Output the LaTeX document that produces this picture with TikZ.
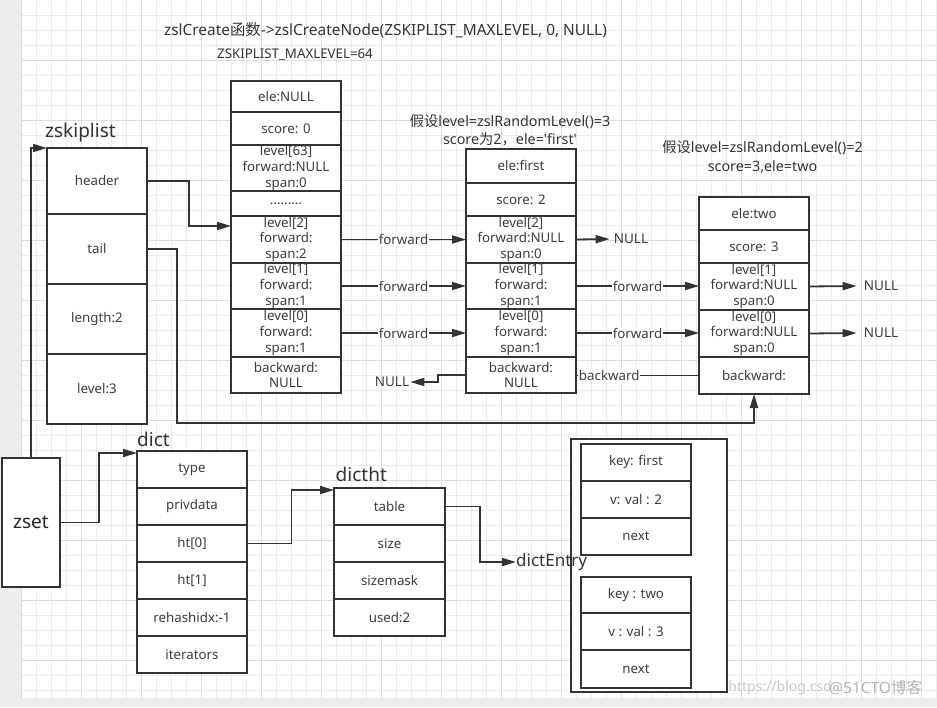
\documentclass[tikz,border=0pt]{standalone}
\usepackage{fontspec}
\setmainfont{Noto Sans}
\newfontfamily\cjk{Noto Sans CJK SC}
\usetikzlibrary{arrows.meta}
\definecolor{linec}{HTML}{333333}
\definecolor{txt}{HTML}{3C3C3C}
\definecolor{gridminor}{HTML}{EBEBEB}
\definecolor{gridmajor}{HTML}{DDDDDD}
\definecolor{strip}{HTML}{EDEDED}
\definecolor{wmark}{HTML}{C8C8C8}
\newcommand{\cel}[6]{\node[cell, minimum width={(#4-#2)*1pt}, minimum height={(#5-#3)*1pt}] (#1) at ({(#2+#4)/2},{(#3+#5)/2}) {#6};}
\tikzset{
  cell/.style={draw=linec, line width=1.8pt, fill=white, inner sep=0pt, outer sep=0pt, align=center, text=txt, font=\fontsize{13.3}{15.7}\selectfont},
  wire/.style={draw=linec, line width=1.8pt},
  conn/.style={wire, -{Triangle[length=14pt,width=8pt]}},
  lbl/.style={fill=white, inner sep=1pt, text=txt, font=\fontsize{13.3}{15}\selectfont},
  nulltxt/.style={inner sep=0pt, text=txt, font=\fontsize{13.5}{15}\selectfont},
  bigtxt/.style={inner sep=0pt, text=linec, font=\fontsize{19}{22}\selectfont},
  note/.style={inner sep=0pt, align=center, text=linec, font=\fontsize{14.3}{18.3}\selectfont},
}
\begin{document}
\begin{tikzpicture}[x=1pt,y=-1pt]
\useasboundingbox (0,0) rectangle (937,707);
% background
\fill[white] (0,0) rectangle (937,707);
\fill[strip] (0,0) rectangle (21.5,707);
\fill[strip] (0,697.7) rectangle (937,707);
\foreach \k in {0,...,61} {
  \pgfmathsetmacro{\xx}{21.7+15*\k}
  \draw[gridminor, line width=0.9pt] (\xx,0) -- (\xx,697.7);
}
\foreach \k in {1,...,46} {
  \draw[gridminor, line width=0.9pt] (21.7,{15*\k}) -- (937,{15*\k});
}
\foreach \k in {0,...,15} {
  \pgfmathsetmacro{\xx}{21.7+60*\k}
  \draw[gridmajor, line width=0.9pt] (\xx,0) -- (\xx,697.7);
}
\foreach \k in {1,...,11} {
  \draw[gridmajor, line width=0.9pt] (21.7,{60*\k}) -- (937,{60*\k});
}

% titles
\node[inner sep=0pt, text=linec, font=\fontsize{15.4}{18}\selectfont] (title) at (385.5,30.5) {zslCreate{\cjk 函数}->zslCreateNode(ZSKIPLIST\_MAXLEVEL, 0, NULL)};
\node[inner sep=0pt, text=linec, font=\fontsize{13.3}{16}\selectfont] (maxlvl) at (295,55) {ZSKIPLIST\_MAXLEVEL=64};
\node[note] (note1) at (510,130) {{\cjk 假设}level=zslRandomLevel()=3\\score{\cjk 为}2{\cjk ，}ele=\textquotesingle first\textquotesingle};
\node[note] (note2) at (762.5,157) {{\cjk 假设}level=zslRandomLevel()=2\\score=3,ele=two};

% zskiplist
\node[bigtxt, anchor=west] (zsl) at (45,133) {zskiplist};
\cel{hdr}{47}{148}{147}{214}{header}
\cel{tail}{47}{214}{147}{284}{tail}
\cel{len}{47}{284}{147}{354}{length:2}
\cel{lvl}{47}{354}{147}{424}{level:3}

% node 1
\cel{n1ele}{231}{81}{341}{112}{ele:NULL}
\cel{n1sc}{231}{112}{341}{145}{score: 0}
\cel{n1l63}{231}{145}{341}{191}{level[63]\\forward:NULL\\span:0}
\cel{n1dots}{231}{191}{341}{216}{.........}
\cel{n1l2}{231}{216}{341}{263}{level[2]\\forward:\\span:2}
\cel{n1l1}{231}{263}{341}{309}{level[1]\\forward:\\span:1}
\cel{n1l0}{231}{309}{341}{357}{level[0]\\forward:\\span:1}
\cel{n1bk}{231}{357}{341}{393}{backward:\\NULL}

% node 2
\cel{n2ele}{466}{149}{576}{183}{ele:first}
\cel{n2sc}{466}{183}{576}{216}{score: 2}
\cel{n2l2}{466}{216}{576}{263}{level[2]\\forward:NULL\\span:0}
\cel{n2l1}{466}{263}{576}{309}{level[1]\\forward:\\span:1}
\cel{n2l0}{466}{309}{576}{357}{level[0]\\forward:\\span:1}
\cel{n2bk}{466}{357}{576}{393}{backward:\\NULL}

% node 3
\cel{n3ele}{699}{197}{809}{230}{ele:two}
\cel{n3sc}{699}{230}{809}{263}{score: 3}
\cel{n3l1}{699}{263}{809}{310}{level[1]\\forward:NULL\\span:0}
\cel{n3l0}{699}{310}{809}{357}{level[0]\\forward:NULL\\span:0}
\cel{n3bk}{699}{357}{809}{394}{backward:}

% NULL labels
\node[nulltxt] (null2) at (631,239) {NULL};
\node[nulltxt] (null3a) at (881,286) {NULL};
\node[nulltxt] (null3b) at (881,333) {NULL};
\node[nulltxt] (nullb) at (392,382) {NULL};

% skiplist connectors
\draw[conn] (n1l2.east) -- (n1l2.east -| n2l2.west) node[lbl, pos=0.5] {forward};
\draw[conn] (n1l1.east) -- (n1l1.east -| n2l1.west) node[lbl, pos=0.5] {forward};
\draw[conn] (n1l0.east) -- (n1l0.east -| n2l0.west) node[lbl, pos=0.5] {forward};
\draw[conn] (n2l1.east) -- (n2l1.east -| n3l1.west) node[lbl, pos=0.5] {forward};
\draw[conn] (n2l0.east) -- (n2l0.east -| n3l0.west) node[lbl, pos=0.5] {forward};
\draw[conn] (n2l2.east) -- ([xshift=-4pt]null2.west);
\draw[conn] (n3l1.east) -- ([xshift=-7pt]null3a.west);
\draw[conn] (n3l0.east) -- ([xshift=-7pt]null3b.west);
\draw[conn] (n3bk.west) -- (n3bk.west -| n2bk.east) node[lbl, pos=0.73] {backward};
\draw[conn] (n2bk.west) -- ++(-28,0) |- ([xshift=1pt]nullb.east);

% zskiplist connectors
\draw[conn] (hdr.east) -- ++(42,0) |- ([yshift=13.5pt]n1l2.west);
\draw[conn] (tail.east) -- ++(30,0) |- ([yshift=-29pt]n3bk.south) -- (n3bk.south);

% zset
\node[draw=linec, line width=1.8pt, fill=white, minimum width=58pt, minimum height=129pt, inner sep=0pt, outer sep=0pt, text=black!85, font=\fontsize{19}{22}\selectfont] (zset) at (31,522.5) {zset};
\draw[conn] (zset.north) |- (hdr.north west);

% dict
\node[bigtxt, anchor=west] (dictlbl) at (137,439) {dict};
\cel{dtype}{137}{451}{247}{488}{type}
\cel{dpriv}{137}{488}{247}{525}{privdata}
\cel{ht0}{137}{525}{247}{562}{ht[0]}
\cel{ht1}{137}{562}{247}{599}{ht[1]}
\cel{rehash}{137}{599}{247}{636}{rehashidx:-1}
\cel{iter}{137}{636}{247}{673}{iterators}
\draw[conn] (zset.east) -- ++(38.6,0) |- ([yshift=-2pt]dtype.north west);

% dictht
\node[bigtxt, anchor=west] (dicthtlbl) at (335.5,474) {dictht};
\cel{dtable}{334}{488}{445}{525}{table}
\cel{dsize}{334}{525}{445}{562}{size}
\cel{dmask}{334}{562}{445}{599}{sizemask}
\cel{dused}{334}{599}{445}{636}{used:2}
\draw[conn] (ht0.east) -- ++(44.5,0) |- ([yshift=-2pt]dtable.north west);

% dictEntry
\node[draw=linec, line width=1.8pt, fill=white, minimum width=156.6pt, minimum height=252.7pt, inner sep=0pt, outer sep=0pt] (debox) at (649,565.3) {};
\cel{e1key}{581}{444}{691}{481}{key: first}
\cel{e1val}{581}{481}{691}{518}{v: val : 2}
\cel{e1next}{581}{518}{691}{555}{next}
\cel{e2key}{581}{577}{691}{613}{key : two}
\cel{e2val}{581}{613}{691}{650}{v : val : 3}
\cel{e2next}{581}{650}{691}{688}{next}
\node[inner sep=0pt, anchor=west, text=linec, font=\fontsize{17}{20}\selectfont] (delbl) at (516,562) {dictEntry};
\draw[conn] (dtable.east) -- ++(35,0) |- (delbl.west);

% watermark
\node[inner sep=0pt, anchor=east, text=wmark, font=\fontsize{14}{16}\selectfont] (wm1) at (832,688) {https://blog.csd};
\node[inner sep=0pt, anchor=west, text=wmark!90!black, font=\fontsize{15.5}{18}\selectfont] (wm2) at (829,688) {@51CTO{\cjk 博客}};
\end{tikzpicture}
\end{document}
